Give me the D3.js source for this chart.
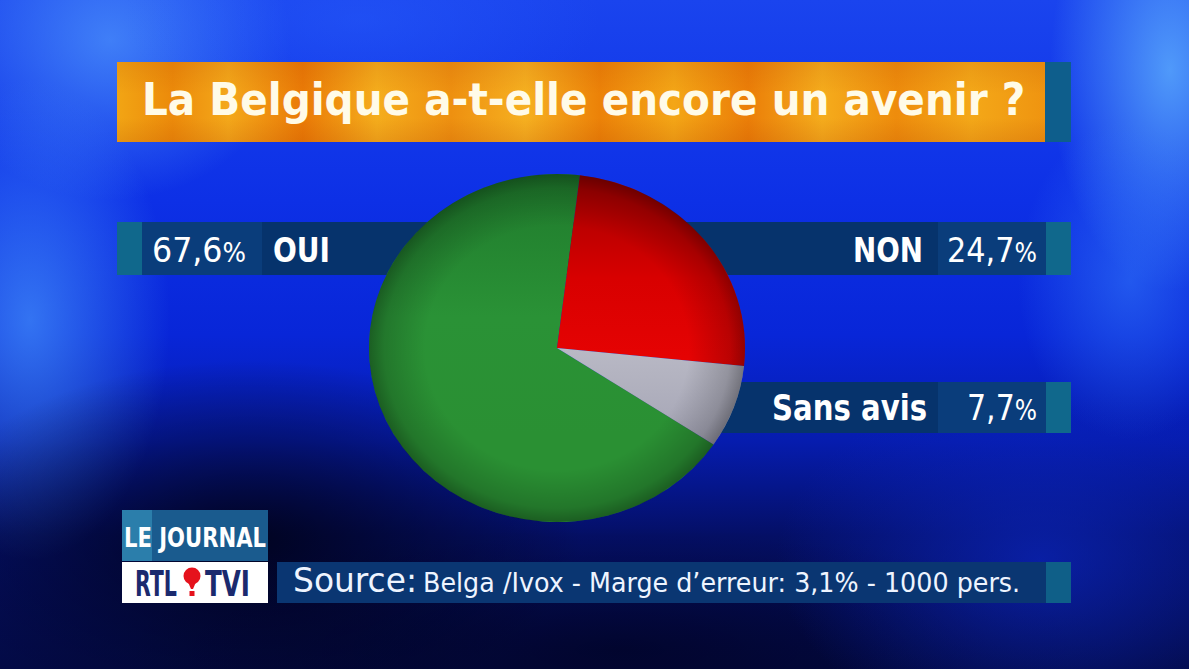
<!DOCTYPE html>
<html>
<head>
<meta charset="utf-8">
<script src="https://cdn.jsdelivr.net/npm/d3@7"></script>
<style>
  html, body { margin: 0; padding: 0; background: #0a20b0; overflow: hidden; }
  svg { display: block; }
</style>
</head>
<body>
<svg id="chart" width="1189" height="669"></svg>
<script>
// ---------------- data ----------------
const title = "La Belgique a-t-elle encore un avenir ?";
const categories = ["OUI", "NON", "Sans avis"];
const values = [67.6, 24.7, 7.7];
const sliceColors = ["#2a8f37", "#e00202", "#c3c3cd"];
const sourceLead = "Source:";
const sourceText = "Belga /Ivox - Marge d\u2019erreur: 3,1% - 1000 pers.";
const brandTop = "LE JOURNAL";
const brandLeft = "RTL";
const brandRight = "TVI";

// ---------------- setup ----------------
const W = 1189, H = 669;
const svg = d3.select("#chart");
const defs = svg.append("defs");
const FONT = "'DejaVu Sans Condensed', 'DejaVu Sans', sans-serif";
const CAP = 0.729; // DejaVu cap-height ratio
const frFmt = d3.formatLocale({decimal: ",", thousands: ".", grouping: [3], currency: ["", "\u20ac"]}).format(".1f");

// place a text so that it spans x0..x1 with given baseline and cap height
function placeText(g, str, x0, x1, baseline, cap, opts = {}) {
  const t = g.append("text")
    .attr("font-family", FONT)
    .attr("font-weight", opts.weight || "bold")
    .attr("font-size", cap / CAP)
    .attr("fill", opts.fill || "#ffffff");
  if (opts.pct) {
    t.append("tspan").text(str);
    t.append("tspan").attr("font-size", "0.78em").text("%");
  } else {
    t.text(str);
  }
  const len = t.node().getComputedTextLength();
  const sx = (x1 - x0) / len;
  t.attr("transform", `translate(${x0},${baseline}) scale(${sx},1)`);
  return t;
}

// ---------------- background ----------------
const bgLin = defs.append("linearGradient").attr("id", "bgLin").attr("x1", 0).attr("y1", 0).attr("x2", 0).attr("y2", 1);
[[0, "#1a44ee"], [0.3, "#0d30e6"], [0.5, "#0826d8"], [0.66, "#061cae"], [0.8, "#040f66"], [1, "#030a45"]]
  .forEach(([o, c]) => bgLin.append("stop").attr("offset", o).attr("stop-color", c));
svg.append("rect").attr("width", W).attr("height", H).attr("fill", "url(#bgLin)");

function glow(id, cx, cy, r, color, op, sx = 1, sy = 1) {
  const g = defs.append("radialGradient").attr("id", id);
  g.append("stop").attr("offset", 0).attr("stop-color", color).attr("stop-opacity", op);
  g.append("stop").attr("offset", 1).attr("stop-color", color).attr("stop-opacity", 0);
  svg.append("ellipse").attr("cx", cx).attr("cy", cy).attr("rx", r * sx).attr("ry", r * sy)
    .attr("fill", `url(#${id})`);
}
glow("g1", 110, 40, 200, "#5aa8ff", 0.6, 0.9, 0.8);
glow("g2", 30, 320, 200, "#4a9cff", 0.65, 0.7, 1.2);
glow("g3", 1170, 70, 200, "#63b8ff", 0.75, 0.6, 1.1);
glow("g4", 1130, 280, 160, "#3a86ff", 0.5, 0.7, 1.0);
glow("g5", 360, 20, 200, "#2c66ff", 0.35, 1.2, 0.5);
glow("g6", 250, 540, 300, "#000010", 0.8, 1.1, 0.6);
glow("g7", 620, 650, 350, "#000018", 0.55, 1.4, 0.35);
glow("g8", 1040, 560, 220, "#0c28c8", 0.65, 1.2, 0.8);

// ---------------- title banner ----------------
const orange = defs.append("linearGradient").attr("id", "orange").attr("x1", 0).attr("x2", 1).attr("y1", 0).attr("y2", 0);
[[0, "#f2a514"], [0.06, "#ec8a0a"], [0.12, "#f4a81a"], [0.2, "#ea7a06"], [0.28, "#f5ad1c"], [0.36, "#ee9010"],
 [0.44, "#f6b020"], [0.52, "#ec8208"], [0.6, "#f4a616"], [0.68, "#eb7e08"], [0.76, "#f5ac1c"], [0.84, "#ee8c0c"],
 [0.92, "#f4a818"], [1, "#ef9410"]].forEach(([o, c]) => orange.append("stop").attr("offset", o).attr("stop-color", c));
const shade = defs.append("linearGradient").attr("id", "shadeV").attr("x1", 0).attr("x2", 0).attr("y1", 0).attr("y2", 1);
[[0, 0.12], [0.4, 0], [0.7, 0], [1, 0.15]].forEach(([o, a]) =>
  shade.append("stop").attr("offset", o).attr("stop-color", "#a03000").attr("stop-opacity", a));

const titleG = svg.append("g");
titleG.append("rect").attr("x", 117).attr("y", 62).attr("width", 928).attr("height", 80).attr("fill", "url(#orange)");
titleG.append("rect").attr("x", 117).attr("y", 62).attr("width", 928).attr("height", 80).attr("fill", "url(#shadeV)");
titleG.append("rect").attr("x", 1045).attr("y", 62).attr("width", 26).attr("height", 80).attr("fill", "#0e5e8c");
placeText(titleG, title, 142, 1025, 115, 32, {fill: "#fffbe8"});

// ---------------- label bands (behind pie) ----------------
const bands = svg.append("g");
const NAVY = "#06336c", NAVY2 = "#0a3d7b", TEAL = "#10688c";
// row 1 (OUI left / NON right)
bands.append("rect").attr("x", 117).attr("y", 222).attr("width", 954).attr("height", 53).attr("fill", NAVY);
bands.append("rect").attr("x", 117).attr("y", 222).attr("width", 25).attr("height", 53).attr("fill", TEAL);
bands.append("rect").attr("x", 142).attr("y", 222).attr("width", 120).attr("height", 53).attr("fill", NAVY2);
bands.append("rect").attr("x", 938).attr("y", 222).attr("width", 108).attr("height", 53).attr("fill", NAVY2);
bands.append("rect").attr("x", 1046).attr("y", 222).attr("width", 25).attr("height", 53).attr("fill", TEAL);
// row 2 (Sans avis)
bands.append("rect").attr("x", 560).attr("y", 382).attr("width", 511).attr("height", 51).attr("fill", NAVY);
bands.append("rect").attr("x", 938).attr("y", 382).attr("width", 108).attr("height", 51).attr("fill", NAVY2);
bands.append("rect").attr("x", 1046).attr("y", 382).attr("width", 25).attr("height", 51).attr("fill", TEAL);

// ---------------- pie ----------------
const cx = 557, cy = 348, rx = 188, ry = 174;
const total = d3.sum(values);
const startDeg = 367 - 360 * values[0] / total; // NON slice begins just right of 12 o'clock
const pie = d3.pie().sort(null).value(d => d)
  .startAngle(startDeg * Math.PI / 180).endAngle(startDeg * Math.PI / 180 + 2 * Math.PI);
const arc = d3.arc().innerRadius(0).outerRadius(rx);
const arcs = pie(values);

// gradients per slice
const gradStops = [
  [["#1f7a2c", 0], ["#2a9236", 0.55], ["#2a9033", 1]],
  [["#a00000", 0], ["#d80000", 0.4], ["#f20606", 1]],
  [["#cfcfd8", 0], ["#bdbdc8", 0.6], ["#a6a6b6", 1]]
];
gradStops.forEach((stops, i) => {
  const g = defs.append("linearGradient").attr("id", "sl" + i)
    .attr("gradientUnits", "userSpaceOnUse").attr("x1", 0).attr("y1", -rx).attr("x2", 0).attr("y2", rx * 0.5);
  stops.forEach(([c, o]) => g.append("stop").attr("offset", o).attr("stop-color", c));
});
const vign = defs.append("radialGradient").attr("id", "vign").attr("gradientUnits", "userSpaceOnUse")
  .attr("cx", 0).attr("cy", 0).attr("r", rx);
[[0, 0], [0.7, 0], [0.92, 0.18], [1, 0.35]].forEach(([o, a]) =>
  vign.append("stop").attr("offset", o).attr("stop-color", "#000").attr("stop-opacity", a));

const pieG = svg.append("g").attr("transform", `translate(${cx},${cy}) scale(1,${ry / rx})`);
pieG.selectAll("path.slice").data(arcs).join("path")
  .attr("class", "slice")
  .attr("d", arc)
  .attr("fill", (d, i) => `url(#sl${i})`);
pieG.append("circle").attr("r", rx).attr("fill", "url(#vign)");

// ---------------- labels ----------------
const lab = svg.append("g");
// OUI
placeText(lab, frFmt(values[0]), 152, 246, 262, 25, {weight: "normal", pct: true});
placeText(lab, categories[0], 273, 330, 262, 25);
// NON
placeText(lab, categories[1], 853, 923, 262, 25);
placeText(lab, frFmt(values[1]), 947, 1037, 262, 25, {weight: "normal", pct: true});
// Sans avis
placeText(lab, categories[2], 772, 927, 420, 26);
placeText(lab, frFmt(values[2]), 967, 1037, 420, 26, {weight: "normal", pct: true});

// ---------------- brand logo ----------------
const logo = svg.append("g");
logo.append("rect").attr("x", 122).attr("y", 510).attr("width", 146).attr("height", 51).attr("fill", "#1a5b8e");
logo.append("rect").attr("x", 122).attr("y", 510).attr("width", 30).attr("height", 51).attr("fill", "#2b7eab");
placeText(logo, brandTop, 124, 266, 547, 20);
logo.append("rect").attr("x", 122).attr("y", 562).attr("width", 146).attr("height", 41).attr("fill", "#ffffff");
placeText(logo, brandLeft, 135, 177, 596, 26, {fill: "#1b2a6e"});
placeText(logo, brandRight, 205, 250, 596, 26, {fill: "#1b2a6e"});
logo.append("circle").attr("cx", 192).attr("cy", 576).attr("r", 8.5).attr("fill", "#e5121c");
logo.append("path").attr("d", "M188,582 L196,582 L193,589 L191,589 Z").attr("fill", "#e5121c");
logo.append("rect").attr("x", 189.5).attr("y", 591).attr("width", 5).attr("height", 5).attr("fill", "#e5121c");

// ---------------- source bar ----------------
const src = svg.append("g");
src.append("rect").attr("x", 277).attr("y", 562).attr("width", 769).attr("height", 41).attr("fill", "#0a3672");
src.append("rect").attr("x", 1046).attr("y", 562).attr("width", 25).attr("height", 41).attr("fill", "#0f5f88");
placeText(src, sourceLead, 293, 417, 592, 24, {weight: "normal", fill: "#eef4ff"});
placeText(src, sourceText, 423, 1020, 592, 19.5, {weight: "normal", fill: "#eef4ff"});
</script>
</body>
</html>
